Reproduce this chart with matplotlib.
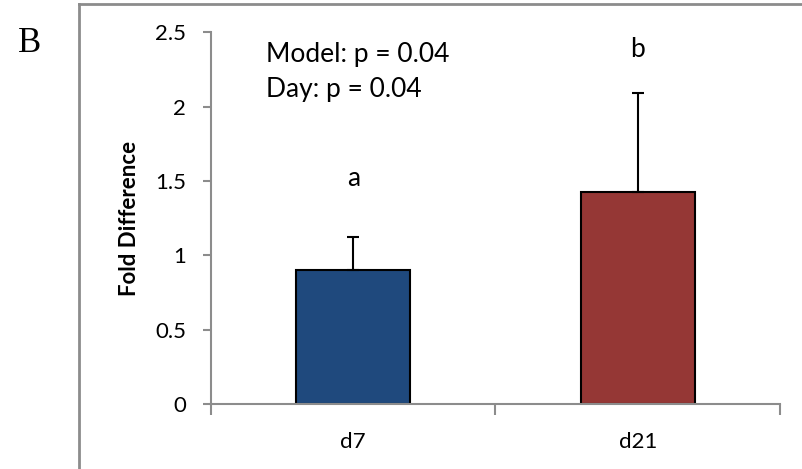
import matplotlib.pyplot as plt
from matplotlib.lines import Line2D

# data
days = ["d7", "d21"]
fold_diff = [0.90, 1.43]
err_up = [0.225, 0.665]
letters = ["a", "b"]
letter_y = [1.47, 2.335]
bar_colors = ["#1F497D", "#953735"]
yticks = [0, 0.5, 1, 1.5, 2, 2.5]
ytick_labels = ["0", "0.5", "1", "1.5", "2", "2.5"]

plt.rcParams['font.family'] = ['Lato', 'DejaVu Sans']
grey = "#8c8c8c"

fig = plt.figure(figsize=(8.03, 4.69), dpi=100)
ax = fig.add_axes([211/803, 1 - 404/469, 569/803, (404 - 32.5)/469])

x = range(len(days))
ax.bar(x, fold_diff, width=0.40, color=bar_colors, edgecolor="black",
       linewidth=1.5, zorder=2)
ax.errorbar(x, fold_diff, yerr=[[0] * len(days), err_up], fmt="none",
            ecolor="black", elinewidth=1.5, capsize=4, capthick=1.5, zorder=3)

for i, t in enumerate(letters):
    ax.text(i, letter_y[i], t, ha="center", va="baseline", fontsize=19)

ax.text(-0.307, 2.30, "Model: p = 0.04", ha="left", va="baseline", fontsize=19)
ax.text(-0.307, 2.068, "Day: p = 0.04", ha="left", va="baseline", fontsize=19)

ax.set_xlim(-0.5, 1.5)
ax.set_ylim(0, 2.5)
ax.set_yticks(yticks)
ax.set_yticklabels(ytick_labels)
ax.set_xticks(list(x))
ax.set_xticklabels(days)
ax.set_xticks([-0.5, 0.5, 1.5], minor=True)
ax.tick_params(axis="x", which="major", length=0, labelsize=16, pad=20)
ax.tick_params(axis="x", which="minor", length=8, width=1.5, color=grey)
ax.tick_params(axis="y", length=6, width=1.5, color=grey, labelsize=16, pad=12)

for s in ["top", "right"]:
    ax.spines[s].set_visible(False)
for s in ["left", "bottom"]:
    ax.spines[s].set_color(grey)
    ax.spines[s].set_linewidth(1.5)
    ax.spines[s].set_zorder(4)

ax.set_ylabel("Fold Difference", fontsize=16, fontweight="bold")
ax.yaxis.set_label_coords(-0.125, 0.5)

# outer frame of the panel and the panel letter
fig.add_artist(Line2D([79/803, 79/803], [0, 1 - 4/469], color=grey, lw=2))
fig.add_artist(Line2D([79/803, 1], [1 - 4/469, 1 - 4/469], color=grey, lw=2))
fig.text(30/803, 1 - 43.5/469, "B", family="Liberation Serif", fontsize=25,
         ha="center", va="center")

fig.savefig("out.png", dpi=100)
